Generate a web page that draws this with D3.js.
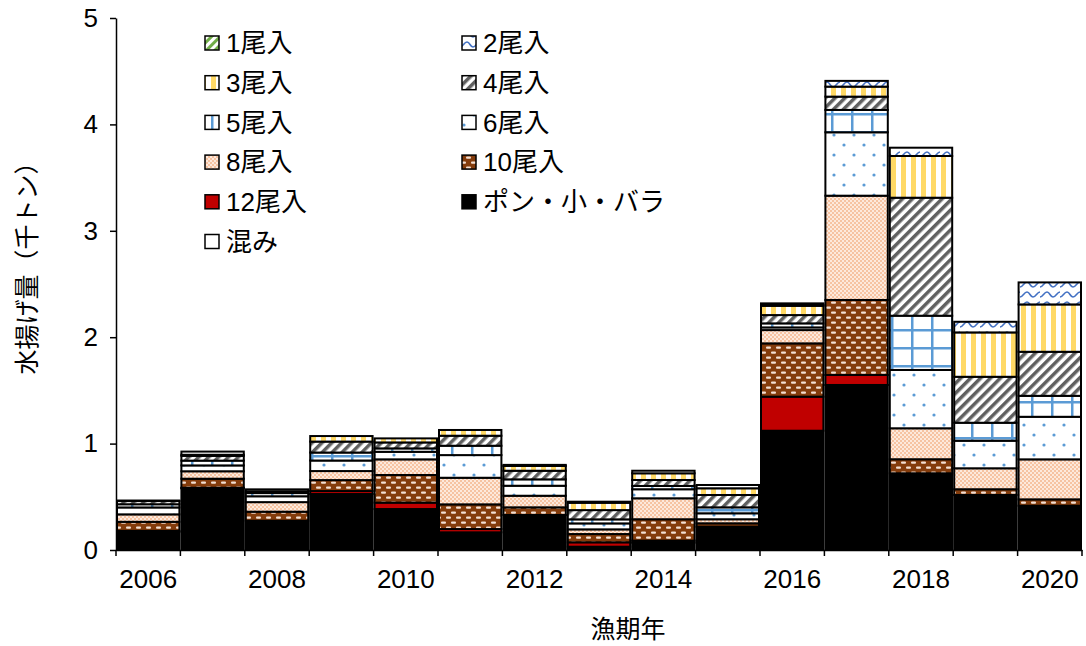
<!DOCTYPE html>
<html><head><meta charset="utf-8">
<script src="https://cdn.jsdelivr.net/npm/d3@7/dist/d3.min.js"></script>
<style>
body{margin:0;background:#fff;}
text{font-family:"Liberation Sans","Noto Sans CJK JP",Arial,sans-serif;}
</style></head>
<body><svg id="c" width="1086" height="646"></svg>
<script>
const years = [2006,2007,2008,2009,2010,2011,2012,2013,2014,2015,2016,2017,2018,2019,2020];
const pon  = [0.17,0.58,0.275,0.526,0.385,0.166,0.329,0.031,0.069,0.219,1.121,1.551,0.721,0.517,0.416];
const o12  = [0.01,0.005,0,0.028,0.06,0.031,0,0.041,0.019,0,0.32,0.094,0,0,0];
const o10  = [0.085,0.085,0.085,0.103,0.26,0.232,0.072,0.078,0.201,0.032,0.501,0.705,0.132,0.054,0.06];
const o8   = [0.07,0.07,0.09,0.085,0.147,0.25,0.109,0.044,0.197,0.038,0.125,0.98,0.291,0.197,0.376];
const o6   = [0.065,0.055,0.055,0.099,0.071,0.213,0.094,0.056,0.085,0.056,0.025,0.596,0.548,0.259,0.4];
const o5   = [0.03,0.045,0.03,0.075,0.032,0.088,0.06,0.038,0.031,0.056,0.038,0.21,0.51,0.169,0.197];
const o4   = [0.03,0.045,0.015,0.103,0.056,0.094,0.081,0.087,0.056,0.116,0.078,0.125,1.109,0.432,0.414];
const o3   = [0,0.01,0,0.052,0.038,0.054,0.045,0.069,0.063,0.063,0.087,0.094,0.392,0.417,0.445];
const o2   = [0,0,0,0,0,0,0,0,0,0,0,0.054,0.078,0.1,0.207];
const o1   = [0,0,0,0,0,0,0,0,0,0,0.01,0,0,0,0];
const mix  = [0.005,0.03,0.02,0,0,0,0.01,0.01,0.024,0.031,0.013,0,0,0,0];
const yTicks = [0,1,2,3,4,5];
const xLabels = [2006,2008,2010,2012,2014,2016,2018,2020];

// stack order bottom -> top
const series = [
  {key:"pon", name:"ポン・小・バラ", vals:pon, fill:"#000000"},
  {key:"o12", name:"12尾入", vals:o12, fill:"#C00000"},
  {key:"o10", name:"10尾入", vals:o10, fill:"url(#p10)"},
  {key:"o8",  name:"8尾入",  vals:o8,  fill:"url(#p8)"},
  {key:"o6",  name:"6尾入",  vals:o6,  fill:"url(#p6)"},
  {key:"o5",  name:"5尾入",  vals:o5,  fill:"url(#p5)"},
  {key:"o4",  name:"4尾入",  vals:o4,  fill:"url(#p4)"},
  {key:"o3",  name:"3尾入",  vals:o3,  fill:"url(#p3)"},
  {key:"o2",  name:"2尾入",  vals:o2,  fill:"url(#p2)"},
  {key:"o1",  name:"1尾入",  vals:o1,  fill:"url(#p1)"},
  {key:"mix", name:"混み",   vals:mix, fill:"#ffffff"}
];
const legendOrder = ["o1","o2","o3","o4","o5","o6","o8","o10","o12","pon","mix"];

const svg = d3.select("#c");
const defs = svg.append("defs");
let p;
p = defs.append("pattern").attr("id","p1").attr("width",6).attr("height",6).attr("patternUnits","userSpaceOnUse").attr("patternTransform","rotate(45)");
p.append("rect").attr("width",6).attr("height",6).attr("fill","#fff");
p.append("rect").attr("width",3).attr("height",6).attr("fill","#70AD47");

p = defs.append("pattern").attr("id","p2").attr("width",20).attr("height",10).attr("patternUnits","userSpaceOnUse");
p.append("rect").attr("width",20).attr("height",10).attr("fill","#fff");
p.append("path").attr("d","M0,7 C3,7 4,2 7,2 C10,2 10,7 13,7 C16,7 17,2 20,2").attr("fill","none").attr("stroke","#4472C4").attr("stroke-width",1.6);

p = defs.append("pattern").attr("id","p3").attr("width",10).attr("height",10).attr("patternUnits","userSpaceOnUse");
p.append("rect").attr("width",10).attr("height",10).attr("fill","#fff");
p.append("rect").attr("x",1).attr("width",5).attr("height",10).attr("fill","#FFD966");

p = defs.append("pattern").attr("id","p4").attr("width",7).attr("height",7).attr("patternUnits","userSpaceOnUse").attr("patternTransform","rotate(45)");
p.append("rect").attr("width",7).attr("height",7).attr("fill","#fff");
p.append("rect").attr("width",3.5).attr("height",7).attr("fill","#606060");

p = defs.append("pattern").attr("id","p5").attr("width",20).attr("height",18).attr("patternUnits","userSpaceOnUse");
p.append("rect").attr("width",20).attr("height",18).attr("fill","#fff");
p.append("rect").attr("x",11).attr("width",2.5).attr("height",18).attr("fill","#5B9BD5");
p.append("rect").attr("y",5).attr("width",20).attr("height",2.5).attr("fill","#5B9BD5");

p = defs.append("pattern").attr("id","p6").attr("width",20).attr("height",20).attr("patternUnits","userSpaceOnUse");
p.append("rect").attr("width",20).attr("height",20).attr("fill","#fff");
p.append("circle").attr("cx",4).attr("cy",5).attr("r",1.6).attr("fill","#5B9BD5");
p.append("circle").attr("cx",14).attr("cy",15).attr("r",1.6).attr("fill","#5B9BD5");

p = defs.append("pattern").attr("id","p8").attr("width",4).attr("height",4).attr("patternUnits","userSpaceOnUse");
p.append("rect").attr("width",4).attr("height",4).attr("fill","#FDE9DC");
p.append("rect").attr("width",2).attr("height",2).attr("fill","#F6C3A2");
p.append("rect").attr("x",2).attr("y",2).attr("width",2).attr("height",2).attr("fill","#F6C3A2");

p = defs.append("pattern").attr("id","p10").attr("width",10).attr("height",10).attr("patternUnits","userSpaceOnUse");
p.append("rect").attr("width",10).attr("height",10).attr("fill","#843C0C");
p.append("rect").attr("x",1).attr("y",1.5).attr("width",5).attr("height",2.2).attr("rx",1).attr("fill","#F3DFD2");
p.append("rect").attr("x",6).attr("y",6.5).attr("width",5).attr("height",2.2).attr("rx",1).attr("fill","#F3DFD2");
p.append("rect").attr("x",-4).attr("y",6.5).attr("width",5).attr("height",2.2).attr("rx",1).attr("fill","#F3DFD2");

const m = {l:116, r:1082, t:18, b:550};
const x = d3.scaleBand().domain(years).range([m.l, m.r]).padding(0);
const y = d3.scaleLinear().domain([0,5]).range([m.b, m.t]);

const table = years.map((yr,i)=>{const o={year:yr}; series.forEach(s=>o[s.key]=s.vals[i]); return o;});
const stack = d3.stack().keys(series.map(s=>s.key))(table);

const g = svg.append("g");
stack.forEach((layer,li)=>{
  const s = series[li];
  g.selectAll(null).data(layer.filter(d=>d[1]-d[0]>0)).enter().append("rect")
    .attr("x",d=>x(d.data.year)+1)
    .attr("width",x.bandwidth()-2)
    .attr("y",d=>y(d[1]))
    .attr("height",d=>y(d[0])-y(d[1]))
    .attr("fill",s.fill)
    .attr("stroke","#000").attr("stroke-width",2);
});

const yAxis = svg.append("g").attr("transform",`translate(${m.l},0)`)
  .call(d3.axisLeft(y).tickValues(yTicks).tickFormat(d3.format("d")).tickSize(6).tickSizeOuter(0).tickPadding(12));
yAxis.selectAll("text").attr("font-size",26).attr("fill","#000");
yAxis.selectAll("line,path").attr("stroke","#000").attr("stroke-width",1.5);

const xAxis = svg.append("g").attr("transform",`translate(0,${m.b})`)
  .call(d3.axisBottom(x).tickValues(xLabels).tickSize(0).tickPadding(20).tickFormat(d3.format("d")));
xAxis.selectAll("text").attr("font-size",26).attr("fill","#000");
xAxis.select("path").attr("stroke","#000").attr("stroke-width",1.5);
const bounds = years.map(yr=>x(yr)).concat([x(years[years.length-1])+x.bandwidth()]);
svg.append("g").selectAll("line").data(bounds).enter().append("line")
  .attr("x1",d=>d).attr("x2",d=>d).attr("y1",m.b).attr("y2",m.b+6)
  .attr("stroke","#000").attr("stroke-width",1.5);

svg.append("text").attr("transform","translate(36,262) rotate(-90)").attr("text-anchor","middle")
  .attr("font-size",25).text("水揚げ量（千トン）");
svg.append("text").attr("x",628).attr("y",638).attr("text-anchor","middle")
  .attr("font-size",25).text("漁期年");

const lg = svg.append("g");
legendOrder.forEach((k,i)=>{
  const s = series.find(d=>d.key===k);
  const col = i%2, row = Math.floor(i/2);
  const lx = col===0 ? 205 : 462;
  const ly = 43 + row*39.7;
  lg.append("rect").attr("x",lx).attr("y",ly-7).attr("width",14).attr("height",14)
    .attr("fill",s.fill).attr("stroke","#000").attr("stroke-width",1.5);
  lg.append("text").attr("x",lx+21).attr("y",ly).attr("dy","0.36em")
    .attr("font-size",26).text(s.name);
});
</script></body></html>
